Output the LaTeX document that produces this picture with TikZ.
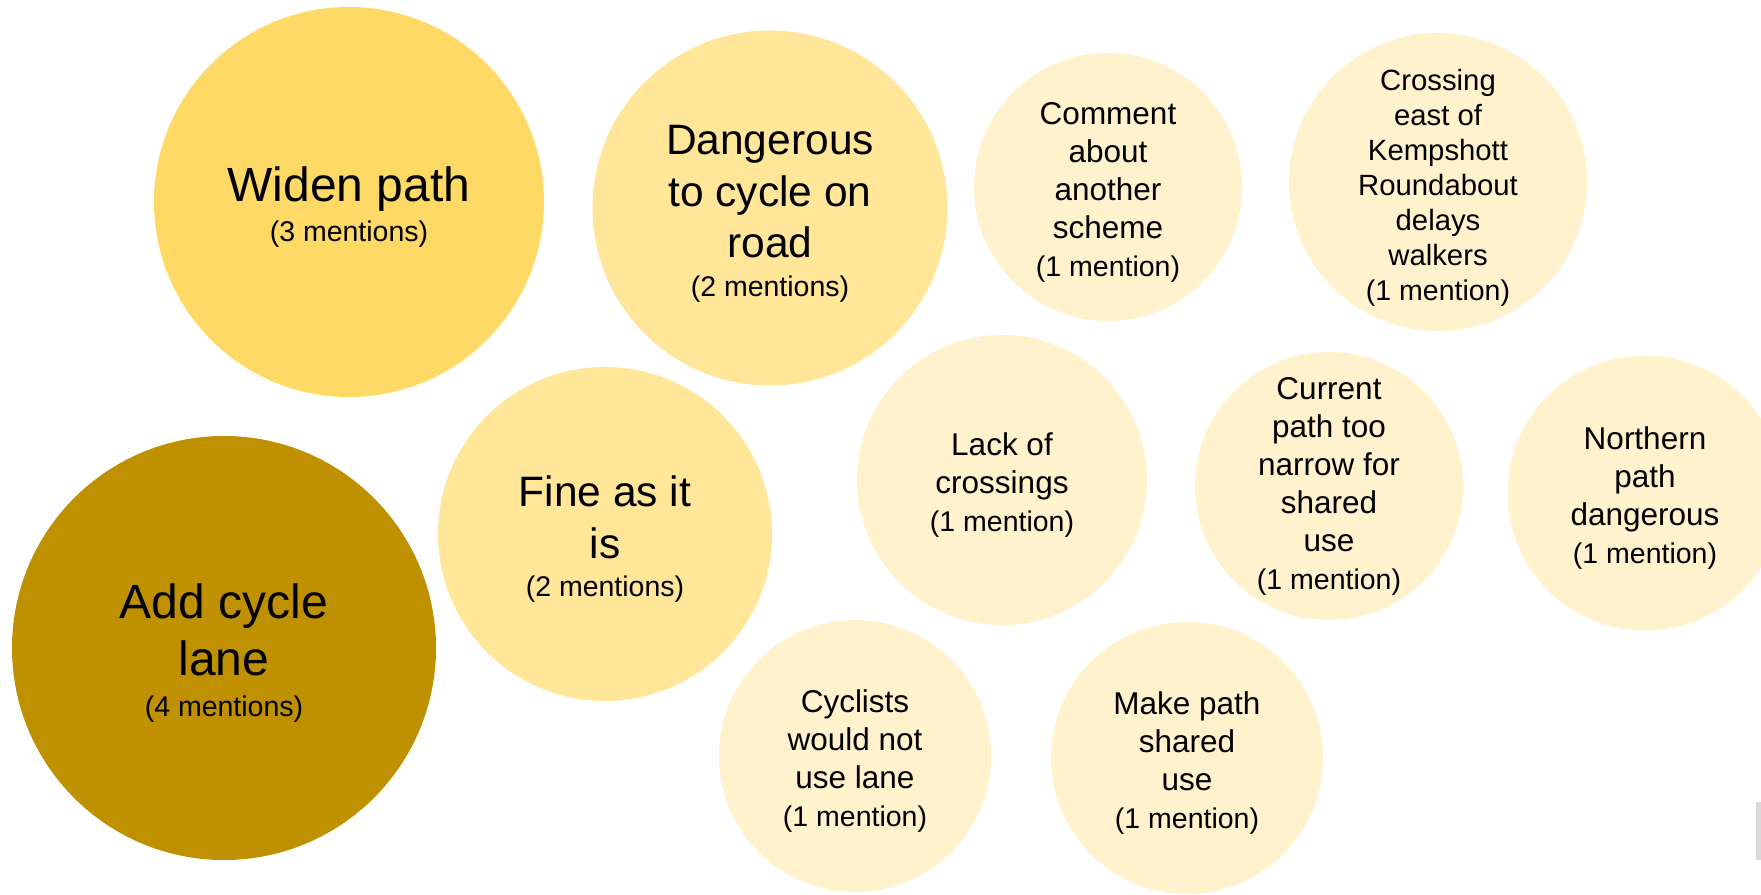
\documentclass[tikz,border=0pt]{standalone}
\usepackage{fontspec}
\setmainfont{Liberation Sans}
\usepackage{xcolor}
\usepackage{tikz}

\definecolor{golddark}{HTML}{BF9000}
\definecolor{goldmid}{HTML}{FFD966}
\definecolor{goldlight}{HTML}{FFE699}
\definecolor{goldpale}{HTML}{FFF2CC}
\definecolor{scrollgray}{HTML}{DADADA}

\newcommand{\mentions}[1]{{\fontsize{28.5}{34}\selectfont (#1)}}
% pushes the text block a little below the bubble centre
\newcommand{\toppad}{\rule{0pt}{\dimexpr\fontcharht\font`d+12pt\relax}}

\begin{document}
\begin{tikzpicture}[x=1pt, y=-1pt,
	bubble/.style={circle, inner sep=0pt, align=center, text=black},
	bigtext/.style={font=\fontsize{48}{57}\selectfont},
	midtext/.style={font=\fontsize{42.5}{51.5}\selectfont},
	smalltext/.style={font=\fontsize{31.5}{38}\selectfont},
	tinytext/.style={font=\fontsize{29.3}{35}\selectfont}]
	\useasboundingbox (0,0) rectangle (1761,894);
	\clip (0,0) rectangle (1761,894);
	% bubbles, largest first
	\node[bubble, bigtext, minimum size=424pt, fill=golddark] at (224,648)(addlane){\toppad Add cycle\\lane\\[-16pt]\mentions{4 mentions}};
	\node[bubble, bigtext, minimum size=390pt, fill=goldmid] at (349,202)(widen){\toppad Widen path\\[-17pt]\mentions{3 mentions}};
	\node[bubble, midtext, minimum size=355pt, fill=goldlight] at (770,208)(danger){\toppad Dangerous\\to cycle on\\road\\[-13pt]\mentions{2 mentions}};
	\node[bubble, midtext, minimum size=334pt, fill=goldlight] at (605,534)(fine){\toppad Fine as it\\is\\[-13pt]\mentions{2 mentions}};
	% one mention each
	\node[bubble, smalltext, minimum size=268pt, fill=goldpale] at (1108,187)(comment){\toppad Comment\\about\\another\\scheme\\\mentions{1 mention}};
	\node[bubble, tinytext, minimum size=298pt, fill=goldpale] at (1438,182)(crossing){\toppad Crossing\\east of\\Kempshott\\Roundabout\\delays\\walkers\\\mentions{1 mention}};
	\node[bubble, smalltext, minimum size=290pt, fill=goldpale] at (1002,480)(lack){\toppad Lack of\\crossings\\\mentions{1 mention}};
	\node[bubble, smalltext, minimum size=268pt, fill=goldpale] at (1329,486)(narrow){Current\\path too\\narrow for\\shared\\use\\\mentions{1 mention}};
	\node[bubble, smalltext, minimum size=275pt, fill=goldpale] at (1645,493)(northern){\toppad Northern\\path\\dangerous\\\mentions{1 mention}};
	\node[bubble, smalltext, minimum size=272pt, fill=goldpale] at (855,756)(cyclists){\toppad Cyclists\\would not\\use lane\\\mentions{1 mention}};
	\node[bubble, smalltext, minimum size=272pt, fill=goldpale] at (1187,758)(shareduse){\toppad Make path\\shared\\use\\\mentions{1 mention}};
	\fill[scrollgray] (1756,802) rectangle (1761,860);
\end{tikzpicture}
\end{document}
